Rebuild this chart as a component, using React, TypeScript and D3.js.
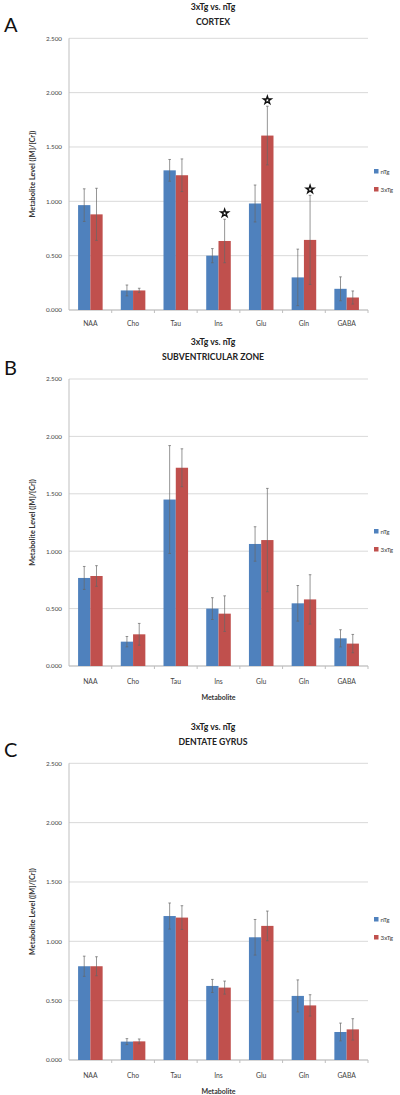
import React from 'react';
import * as d3 from 'd3';

const categories = ['NAA', 'Cho', 'Tau', 'Ins', 'Glu', 'Gln', 'GABA'];
const seriesNames = ['nTg', '3xTg'];
const yTicks = [0, 0.5, 1, 1.5, 2, 2.5];

// Panel A: Cortex
const cortexNTg = [0.965, 0.18, 1.285, 0.5, 0.98, 0.3, 0.195];
const cortexNTgErr = [0.15, 0.05, 0.1, 0.065, 0.17, 0.26, 0.11];
const cortex3xTg = [0.88, 0.18, 1.24, 0.635, 1.605, 0.645, 0.115];
const cortex3xTgErr = [0.24, 0.02, 0.15, 0.2, 0.27, 0.41, 0.06];
const cortexSig = [false, false, false, true, true, true, false];

// Panel B: Subventricular zone
const svzNTg = [0.767, 0.212, 1.45, 0.5, 1.063, 0.546, 0.241];
const svzNTgErr = [0.1, 0.045, 0.47, 0.095, 0.15, 0.155, 0.075];
const svz3xTg = [0.784, 0.276, 1.727, 0.456, 1.097, 0.58, 0.195];
const svz3xTgErr = [0.09, 0.095, 0.165, 0.155, 0.45, 0.215, 0.08];
const svzSig = [false, false, false, false, false, false, false];

// Panel C: Dentate gyrus
const dgNTg = [0.79, 0.155, 1.213, 0.624, 1.034, 0.54, 0.236];
const dgNTgErr = [0.085, 0.025, 0.11, 0.055, 0.15, 0.135, 0.075];
const dg3xTg = [0.79, 0.157, 1.2, 0.61, 1.13, 0.46, 0.258];
const dg3xTgErr = [0.08, 0.02, 0.1, 0.055, 0.125, 0.09, 0.09];
const dgSig = [false, false, false, false, false, false, false];

const COLORS = ['#4F81BD', '#C0504D'];
const FONT = 'Lato, "Open Sans", sans-serif';

type PanelProps = {
  letter: string;
  region: string;
  nTg: number[];
  nTgErr: number[];
  tg: number[];
  tgErr: number[];
  sig: boolean[];
  top: number;
  bottom: number;
  titleY: number;
  letterY: number;
  legendY: number;
  tickLabelY: number;
  xTitleY: number | null;
};

const LEFT = 69;
const RIGHT = 368;

function Star({ cx, cy }: { cx: number; cy: number }) {
  const path = d3.symbol().type(d3.symbolStar).size(18)();
  return (
    <path
      d={path || ''}
      transform={`translate(${cx},${cy})`}
      fill="#fff"
      stroke="#111"
      strokeWidth={1.4}
    />
  );
}

function Panel(p: PanelProps) {
  const y = d3.scaleLinear().domain([0, 2.5]).range([p.bottom, p.top]);
  const x0 = d3.scaleBand<string>().domain(categories).range([LEFT, RIGHT]).paddingInner(0).paddingOuter(0);
  const bw = x0.bandwidth();
  const groupW = bw * 0.575;
  const x1 = d3.scaleBand<string>().domain(seriesNames).range([0, groupW]);
  const fmt = d3.format('.3f');
  const series = [
    { name: 'nTg', vals: p.nTg, errs: p.nTgErr },
    { name: '3xTg', vals: p.tg, errs: p.tgErr },
  ];
  const midY = (p.top + p.bottom) / 2;
  return (
    <g>
      <text x={4} y={p.letterY} fontSize={20} fontFamily={FONT} fill="#111">
        {p.letter}
      </text>
      <text x={213} y={p.titleY} textAnchor="middle" fontSize={8.7} fontWeight="bold" fontFamily={FONT} fill="#222">
        3xTg vs. nTg
      </text>
      <text x={213} y={p.titleY + 15} textAnchor="middle" fontSize={8.7} fontWeight="bold" fontFamily={FONT} fill="#222">
        {p.region}
      </text>
      {yTicks.map((t) => (
        <g key={t}>
          <line x1={LEFT} x2={RIGHT} y1={y(t)} y2={y(t)} stroke="#d9d9d9" strokeWidth={1} />
          <text x={62} y={y(t) + 2.3} textAnchor="end" fontSize={6.3} fontFamily={FONT} fill="#444">
            {fmt(t)}
          </text>
        </g>
      ))}
      <line x1={LEFT} x2={LEFT} y1={p.top} y2={p.bottom} stroke="#bfbfbf" strokeWidth={1} />
      <line x1={LEFT} x2={RIGHT} y1={p.bottom} y2={p.bottom} stroke="#bfbfbf" strokeWidth={1} />
      {categories.map((c, i) => (
        <line key={'tk' + c} x1={LEFT + bw * (i + 1)} x2={LEFT + bw * (i + 1)} y1={p.bottom} y2={p.bottom + 3} stroke="#bfbfbf" />
      ))}
      <text
        transform={`translate(35,${midY}) rotate(-90)`}
        textAnchor="middle"
        fontSize={7.3}
        fontWeight="bold"
        fontFamily={FONT}
        fill="#333"
      >
        Metabolite Level ([M]/[Cr])
      </text>
      {categories.map((c, i) => {
        const gx = (x0(c) || 0) + (bw - groupW) / 2;
        return (
          <g key={c}>
            {series.map((s) => {
              const bx = gx + (x1(s.name) || 0);
              const w = x1.bandwidth();
              const v = s.vals[i];
              const e = s.errs[i];
              const cx = bx + w / 2;
              return (
                <g key={s.name}>
                  <rect x={bx} y={y(v)} width={w} height={y(0) - y(v)} fill={COLORS[seriesNames.indexOf(s.name)]} />
                  <line x1={cx} x2={cx} y1={y(v + e)} y2={y(Math.max(0, v - e))} stroke="#666" strokeWidth={0.7} />
                  <line x1={cx - 1.3} x2={cx + 1.3} y1={y(v + e)} y2={y(v + e)} stroke="#666" strokeWidth={0.7} />
                  <line x1={cx - 1.3} x2={cx + 1.3} y1={y(Math.max(0, v - e))} y2={y(Math.max(0, v - e))} stroke="#666" strokeWidth={0.7} />
                  {s.name === '3xTg' && p.sig[i] ? <Star cx={cx} cy={y(v + e) - 6} /> : null}
                </g>
              );
            })}
            <text x={(x0(c) || 0) + bw / 2} y={p.tickLabelY} textAnchor="middle" fontSize={6.8} fontFamily={FONT} fill="#444">
              {c}
            </text>
          </g>
        );
      })}
      {p.xTitleY !== null ? (
        <text x={(LEFT + RIGHT) / 2} y={p.xTitleY} textAnchor="middle" fontSize={7} fontWeight="bold" fontFamily={FONT} fill="#333">
          Metabolite
        </text>
      ) : null}
      {seriesNames.map((n, k) => (
        <g key={n}>
          <rect x={374} y={p.legendY + k * 18 - 3} width={4.5} height={4.5} fill={COLORS[k]} />
          <text x={380.5} y={p.legendY + k * 18 + 1.8} fontSize={6.3} fontFamily={FONT} fill="#444">
            {n}
          </text>
        </g>
      ))}
    </g>
  );
}

export default function App() {
  return (
    <svg
      width={400}
      height={1095}
      style={{ position: 'absolute', left: 0, top: 0, background: '#fff' }}
    >
      <rect x={0} y={0} width={400} height={1095} fill="#fff" />
      <Panel
        letter="A"
        region="CORTEX"
        nTg={cortexNTg}
        nTgErr={cortexNTgErr}
        tg={cortex3xTg}
        tgErr={cortex3xTgErr}
        sig={cortexSig}
        top={38.3}
        bottom={310}
        titleY={9.5}
        letterY={32}
        legendY={172}
        tickLabelY={326}
        xTitleY={null}
      />
      <Panel
        letter="B"
        region="SUBVENTRICULAR ZONE"
        nTg={svzNTg}
        nTgErr={svzNTgErr}
        tg={svz3xTg}
        tgErr={svz3xTgErr}
        sig={svzSig}
        top={379}
        bottom={666}
        titleY={345}
        letterY={375}
        legendY={532}
        tickLabelY={684}
        xTitleY={699.5}
      />
      <Panel
        letter="C"
        region="DENTATE GYRUS"
        nTg={dgNTg}
        nTgErr={dgNTgErr}
        tg={dg3xTg}
        tgErr={dg3xTgErr}
        sig={dgSig}
        top={763.3}
        bottom={1060}
        titleY={730}
        letterY={757}
        legendY={920}
        tickLabelY={1078}
        xTitleY={1093.5}
      />
    </svg>
  );
}
